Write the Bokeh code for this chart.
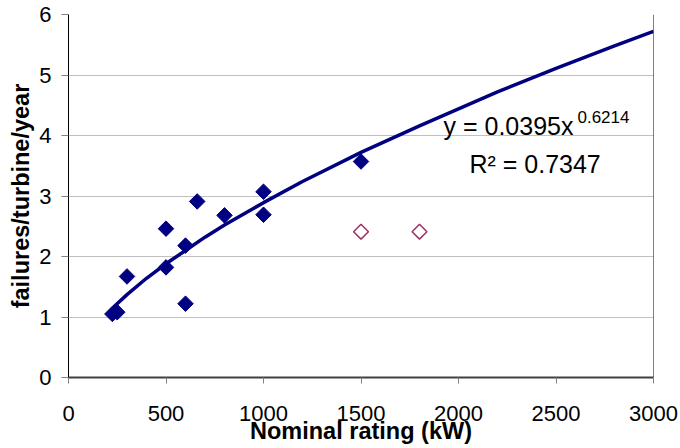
import math
from bokeh.plotting import figure
from bokeh.models import FixedTicker, Span, Label
from bokeh.embed import file_html
from bokeh.resources import INLINE

# Data
rating_kw = [225, 250, 300, 500, 500, 600, 600, 660, 800, 1000, 1000, 1500]
failures = [1.05, 1.08, 1.67, 2.46, 1.82, 2.18, 1.22, 2.91, 2.68, 3.07, 2.69, 3.57]

outlier_kw = [1500, 1800]
outlier_failures = [2.41, 2.41]

trend_kw = [230, 300, 400, 500, 600, 700, 800, 1000, 1200, 1500, 1800, 2000, 2200, 2500, 2800, 3000]
trend_failures = [1.16, 1.37, 1.64, 1.88, 2.10, 2.32, 2.52, 2.89, 3.24, 3.72, 4.16, 4.44, 4.72, 5.11, 5.48, 5.72]

x_ticks = [0, 500, 1000, 1500, 2000, 2500, 3000]
y_ticks = [0, 1, 2, 3, 4, 5, 6]

FONT = "Liberation Sans"
NAVY = "#000080"

p = figure(width=680, height=448, x_range=(0, 3000), y_range=(0, 6),
           output_backend="svg", toolbar_location=None,
           min_border_left=68, min_border_right=27, min_border_top=14, min_border_bottom=71)
p.outline_line_color = None
p.background_fill_color = "white"
p.border_fill_color = "white"

p.xgrid.grid_line_color = None
p.ygrid.grid_line_color = "#c0c0c0"
p.ygrid.grid_line_width = 1

p.xaxis.ticker = FixedTicker(ticks=x_ticks)
p.yaxis.ticker = FixedTicker(ticks=y_ticks)
p.xaxis.minor_tick_line_color = None
p.yaxis.minor_tick_line_color = None

for ax in (p.xaxis, p.yaxis):
    ax.major_label_text_font = FONT
    ax.major_label_text_font_size = "22px"
    ax.major_label_text_color = "black"
    ax.axis_label_text_font = FONT
    ax.axis_label_text_font_style = "bold"
    ax.axis_label_text_font_size = "23.5px"
    ax.axis_label_text_color = "black"
    ax.major_tick_in = 0
    ax.major_tick_line_color = "#808080"

p.xaxis.axis_label = "Nominal rating (kW)"
p.yaxis.axis_label = "failures/turbine/year"

p.yaxis.axis_line_color = "black"
p.yaxis.major_tick_out = 7
p.yaxis.major_label_standoff = 10
p.yaxis.axis_label_standoff = 2

p.xaxis.axis_line_color = "#404040"
p.xaxis.axis_line_width = 2
p.xaxis.major_tick_out = 6
p.xaxis.major_label_standoff = 22
p.xaxis.axis_label_standoff = -6

p.add_layout(Span(location=3000, dimension="height", line_color="black", line_width=1))

p.line(trend_kw, trend_failures, line_color=NAVY, line_width=3.5)
p.scatter(rating_kw, failures, marker="square", angle=math.pi / 4, size=11,
          fill_color=NAVY, line_color=NAVY)
p.scatter(outlier_kw, outlier_failures, marker="square", angle=math.pi / 4, size=10.5,
          fill_color="white", line_color="#993366", line_width=1.5)

p.add_layout(Label(x=1923, y=4.15, text="y = 0.0395x", text_font=FONT,
                   text_font_size="25px", text_color="black", text_baseline="middle"))
p.add_layout(Label(x=2610, y=4.30, text="0.6214", text_font=FONT,
                   text_font_size="17px", text_color="black", text_baseline="middle"))
p.add_layout(Label(x=2056, y=3.53, text="R² = 0.7347", text_font=FONT,
                   text_font_size="25px", text_color="black", text_baseline="middle"))

open("out.html", "w").write(file_html(p, INLINE))
